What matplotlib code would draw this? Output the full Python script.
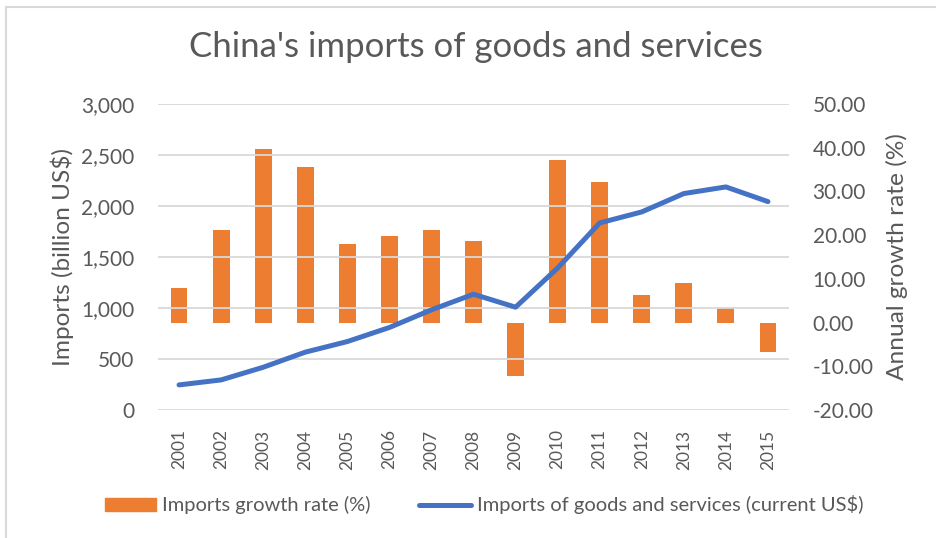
import matplotlib
matplotlib.use("Agg")
import matplotlib.pyplot as plt
from matplotlib.lines import Line2D
from matplotlib.patches import Patch, Rectangle

plt.rcParams['font.family'] = ['Lato', 'DejaVu Sans']

years = ['2001', '2002', '2003', '2004', '2005', '2006', '2007', '2008',
         '2009', '2010', '2011', '2012', '2013', '2014', '2015']
growth_rate = [8.0, 21.1, 39.8, 35.7, 18.0, 19.9, 21.1, 18.7,
               -12.2, 37.2, 32.2, 6.3, 9.0, 3.3, -6.7]
imports_bn = [246, 295, 419, 567, 671, 809, 982, 1135,
              1008, 1392, 1834, 1942, 2122, 2187, 2043]

left_ticks = [0, 500, 1000, 1500, 2000, 2500, 3000]
right_ticks = [-20, -10, 0, 10, 20, 30, 40, 50]

TEXT = '#595959'
ORANGE = '#ED7D31'
BLUE = '#4472C4'
GRID = '#D9D9D9'

W, H = 937, 538
fig = plt.figure(figsize=(W / 100, H / 100), dpi=100)

# plot area in pixel coordinates
x0, x1, y0, y1 = 158, 789, 104, 410
ax = fig.add_axes([x0 / W, 1 - y1 / H, (x1 - x0) / W, (y1 - y0) / H])
ax2 = ax.twinx()

x = list(range(len(years)))

# growth-rate bars on the secondary axis
ax2.bar(x, growth_rate, width=0.4, color=ORANGE, zorder=2)
ax2.set_ylim(-20, 50)
ax2.set_yticks(right_ticks)
ax2.set_yticklabels([f'{v:.2f}' for v in right_ticks])

# import totals on the primary axis, drawn on top
ax.plot(x, imports_bn, color=BLUE, lw=3.6, solid_capstyle='round', zorder=5)
ax.set_ylim(0, 3000)
ax.set_yticks(left_ticks)
ax.set_yticklabels([f'{v:,}' for v in left_ticks])
ax.set_xlim(-0.5, len(years) - 0.5)
ax.set_xticks(x)
ax.set_xticklabels(years, rotation=90)

ax.set_zorder(ax2.get_zorder() + 1)
ax.patch.set_visible(False)

for a in (ax, ax2):
    for s in a.spines.values():
        s.set_visible(False)
    a.tick_params(length=0, colors=TEXT, labelsize=15, pad=17)
ax.tick_params(axis='x', labelsize=12.5, pad=14)

ax.yaxis.grid(True, color=GRID, lw=1.3, zorder=0)
ax.set_axisbelow(True)

ax.set_ylabel('Imports (billion US$)', color=TEXT, fontsize=17.6, labelpad=5)
ax2.set_ylabel('Annual growth rate (%)', color=TEXT, fontsize=17.6, labelpad=9)

fig.text(476 / W, 1 - 47 / H, "China's imports of goods and services",
         ha='center', va='center', color=TEXT, fontsize=25)

handles = [Patch(color=ORANGE, label='Imports growth rate (%)'),
           Line2D([0], [0], color=BLUE, lw=3.6, solid_capstyle='round',
                  label='Imports of goods and services (current US$)')]
fig.legend(handles=handles, loc='center', bbox_to_anchor=(484 / W, 1 - 505 / H),
           ncol=2, frameon=False, fontsize=14.5, labelcolor=TEXT,
           handlelength=2.55, handleheight=0.6, handletextpad=0.3,
           columnspacing=2.4, borderpad=0, borderaxespad=0)

# chart frame
fig.patches.append(Rectangle((6.5 / W, -0.1), 1.2, 1 - 6.5 / H + 0.1,
                             transform=fig.transFigure, fill=False,
                             edgecolor='#D9D9D9', lw=1.5))

fig.savefig('out.png', dpi=100)
